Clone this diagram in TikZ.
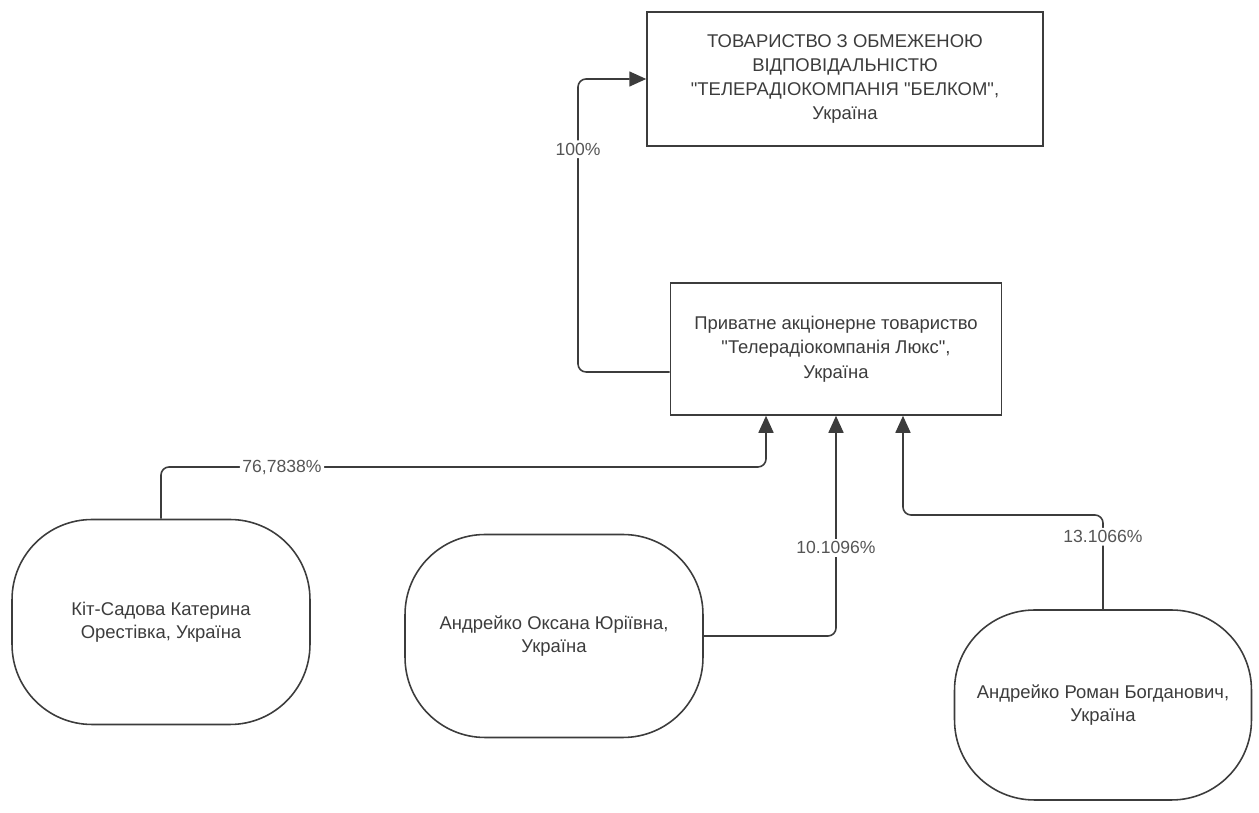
\documentclass[tikz,border=0pt]{standalone}
\usepackage{fontspec}
\setmainfont{Liberation Sans}
\usetikzlibrary{arrows.meta}

\definecolor{ink}{RGB}{60,60,60}
\definecolor{pctgray}{RGB}{85,85,85}

\tikzset{
  orgbox/.style={draw=ink, line width=0.9pt, rectangle, align=center, text=ink,
    font=\fontsize{10.5}{13.8}\selectfont},
  personbox/.style={draw=ink, line width=0.9pt, rectangle, rounded corners=1.6cm,
    minimum width=5.96cm, align=center, text=ink, font=\fontsize{10.5}{13}\selectfont},
  link/.style={draw=ink, line width=0.9pt, rounded corners=0.16cm,
    -{Triangle[width=0.3cm,length=0.34cm]}},
  pct/.style={fill=white, inner sep=1.5pt, text=pctgray, font=\fontsize{10}{12}\selectfont}
}
\newcommand{\qq}{\textquotedbl}

\begin{document}
\begin{tikzpicture}[x=0.02cm,y=-0.02cm]
\useasboundingbox (0,0) rectangle (1259,813);

\node[orgbox, minimum width=7.92cm, minimum height=2.68cm] (belkom) at (845,79)
  {ТОВАРИСТВО З ОБМЕЖЕНОЮ\\ВІДПОВІДАЛЬНІСТЮ\\\qq ТЕЛЕРАДІОКОМПАНІЯ \qq БЕЛКОМ\qq,\\Україна};
\node[orgbox, minimum width=6.62cm, minimum height=2.64cm] (lux) at (836,349)
  {Приватне акціонерне товариство\\\qq Телерадіокомпанія Люкс\qq,\\Україна};

\node[personbox, minimum height=4.1cm] (kit) at (161,622)
  {Кіт-Садова Катерина\\Орестівка, Україна};
\node[personbox, minimum height=4.06cm] (oksana) at (554,636)
  {Андрейко Оксана Юріївна,\\Україна};
\node[personbox, minimum width=5.94cm, minimum height=3.8cm] (roman) at (1103,705)
  {Андрейко Роман Богданович,\\Україна};

\coordinate (bend100) at (578,372);
\coordinate (bend1) at (766,467);
\coordinate (bend3) at (1103,515);

\draw[link] ([yshift=-0.46cm]lux.west) -- (bend100) |- node[pct,pos=0.38]{100\%} (belkom.west);
\draw[link] (kit.north) |- node[pct,pos=0.6]{76,7838\%} (bend1) -- ([xshift=-1.4cm]lux.south);
\draw[link] (oksana.east) -| node[pct,pos=0.7]{10.1096\%} (lux.south);
\draw[link] (roman.north) -- node[pct,pos=0.77]{13.1066\%} (bend3) -| ([xshift=1.34cm]lux.south);

\end{tikzpicture}
\end{document}
